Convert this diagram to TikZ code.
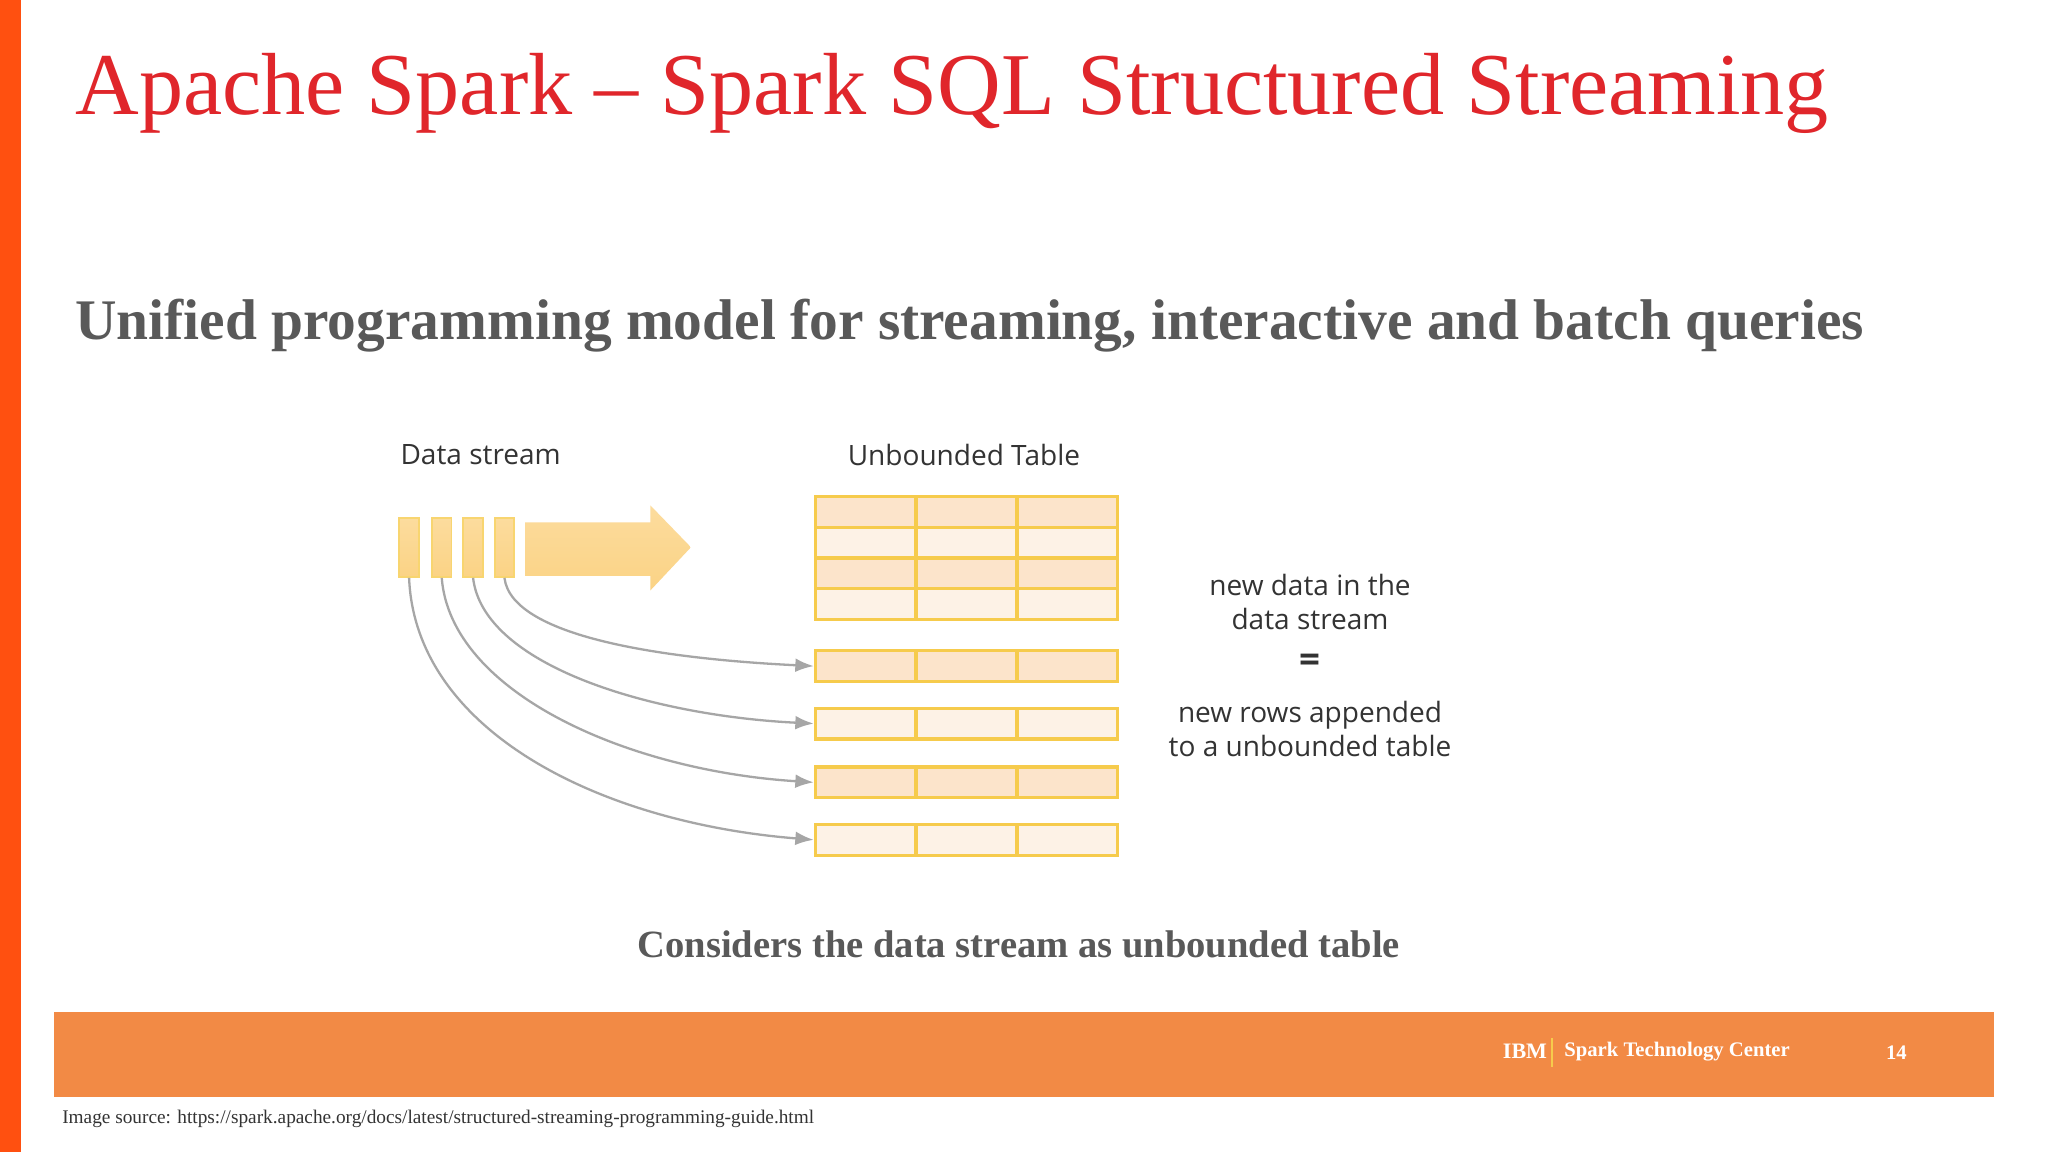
\documentclass[tikz,border=0pt]{standalone}
\usepackage{fontspec}
\setmainfont{Liberation Serif}
\newfontfamily\diagfont{Open Sans}
\usetikzlibrary{arrows.meta}
\definecolor{sparkred}{HTML}{E0262B}
\definecolor{leftbar}{HTML}{FF5010}
\definecolor{footband}{HTML}{F28A45}
\definecolor{subgray}{HTML}{595959}
\definecolor{celldark}{HTML}{FCE4CB}
\definecolor{celllight}{HTML}{FDF2E6}
\definecolor{cellline}{HTML}{F6CB4C}
\definecolor{blockfill}{HTML}{FBD385}
\tikzset{
  cell/.style={draw=cellline, line width=0.7pt, minimum width=0.77cm, minimum height=0.235cm, inner sep=0pt, anchor=north west},
  block/.style={draw=cellline!80!white, top color=blockfill!80!white, bottom color=blockfill, minimum width=0.15cm, minimum height=0.45cm, inner sep=0pt, anchor=north west},
  flow/.style={draw=gray!70, line width=0.5pt, -{Latex[length=4pt,width=3pt]}},
  label/.style={font=\diagfont\fontsize{6.1}{7.4}\selectfont, text=black!80},
}
\begin{document}
\begin{tikzpicture}[x=0.01cm,y=-0.01cm]
  \useasboundingbox (0,0) rectangle (1568,882);
  \fill[white] (0,0) rectangle (1568,882);
  \fill[leftbar] (0,0) rectangle (16,882);
  \fill[footband] (41,775) rectangle (1527,840);

  \node[anchor=base west, text=sparkred, inner sep=0pt, font=\fontsize{19.2}{23}\selectfont] (title) at (57,88) {Apache Spark -- Spark SQL Structured Streaming};
  \node[anchor=base west, text=subgray, inner sep=0pt, font=\bfseries\fontsize{12.5}{15}\selectfont] (subtitle) at (57,260) {Unified programming model for streaming, interactive and batch queries};

  \node[label] (stream-lbl) at (368,348) {Data stream};
  \node[label] (table-lbl) at (738,348) {Unbounded Table};

  % stream blocks
  \foreach \i/\x in {1/305,2/330,3/354,4/378}
    \node[block] (blk\i) at (\x,396) {};
  \coordinate (bigarrow) at (402,419);
  \shade[top color=blockfill!80!white, bottom color=blockfill]
    (402,400) -- (498,400) -- (498,387) -- (529,419) -- (498,452) -- (498,441) -- (402,441) -- cycle;

  % unbounded table
  \foreach \r in {0,...,3}
    \foreach \c in {0,1,2} {
      \pgfmathtruncatemacro{\odd}{mod(\r,2)}
      \ifnum\odd=0 \def\cf{celldark}\else\def\cf{celllight}\fi
      \node[cell, fill=\cf] (tab-\r-\c) at (623+77.3*\c,379+23.5*\r) {};
    }
  % new rows
  \foreach \r/\y/\cf in {1/497/celldark,2/541/celllight,3/586/celldark,4/630/celllight}
    \foreach \c in {0,1,2}
      \node[cell, fill=\cf] (row\r-\c) at (623+77.3*\c,\y) {};

  \draw[flow] (blk4.south) .. controls (392,490) and (520,505) .. (row1-0.west);
  \draw[flow] (blk3.south) .. controls (370,510) and (500,548) .. (row2-0.west);
  \draw[flow] (blk2.south) .. controls (345,530) and (480,590) .. (row3-0.west);
  \draw[flow] (blk1.south) .. controls (318,560) and (460,630) .. (row4-0.west);

  \node[label, align=center] (note1) at (1003,461) {new data in the\\data stream};
  \node[label, font=\diagfont\bfseries\fontsize{8}{8}\selectfont] (eq) at (1003,508) {=};
  \node[label, align=center] (note2) at (1003,558) {new rows appended\\to a unbounded table};

  \node[text=subgray, font=\bfseries\fontsize{8.4}{10}\selectfont] (caption) at (780,723) {Considers the data stream as unbounded table};

  \node[anchor=west, text=white, inner sep=0pt, font=\bfseries\fontsize{4.8}{6}\selectfont] (ibm) at (1150,805) {IBM};
  \draw[cellline] (1188,795) -- (1188,817);
  \node[anchor=west, text=white, inner sep=0pt, font=\bfseries\fontsize{4.5}{6}\selectfont] (stc) at (1197,805) {Spark Technology Center};
  \node[text=white, inner sep=0pt, font=\bfseries\fontsize{4.5}{6}\selectfont] (page) at (1452,806) {14};
  \node[anchor=west, text=black!80, inner sep=0pt, font=\fontsize{4.2}{5}\selectfont] (source) at (47,857) {Image source: https://spark.apache.org/docs/latest/structured-streaming-programming-guide.html};
\end{tikzpicture}
\end{document}
